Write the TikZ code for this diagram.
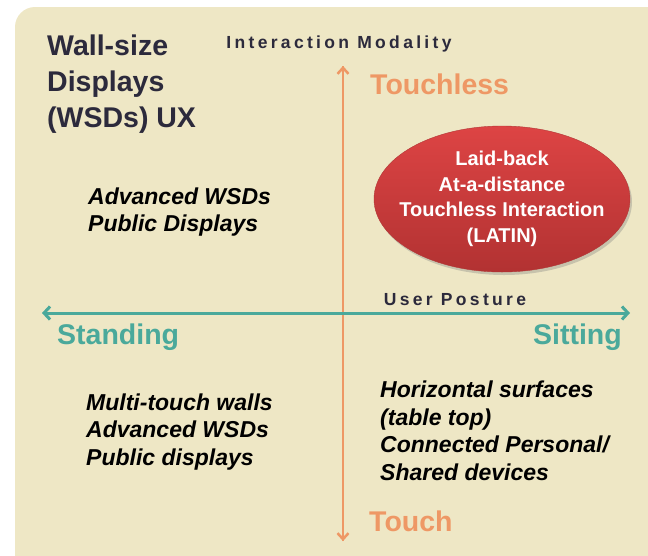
\documentclass[tikz,border=0pt]{standalone}
\usepackage{fontspec}
\setmainfont{Liberation Sans}
\usetikzlibrary{shapes.geometric,shadows,arrows.meta}
\definecolor{paper}{HTML}{EEE7C5}
\definecolor{ink}{HTML}{2C2A3C}
\definecolor{salmon}{HTML}{EE9865}
\definecolor{teal}{HTML}{4AA99B}
\definecolor{redtop}{HTML}{DD4444}
\definecolor{redbot}{HTML}{B23232}
\newcommand{\spaced}{\addfontfeatures{LetterSpace=19}}

\begin{document}
\begin{tikzpicture}[x=1pt,y=-1pt,
    every node/.style={inner sep=0pt},
    quadtext/.style={anchor=west, align=left, text=black,
      font=\bfseries\itshape\fontsize{23}{27.5}\selectfont},
    poletext/.style={font=\bfseries\fontsize{28.5}{30}\selectfont},
    axistext/.style={text=ink, font=\bfseries\fontsize{17.5}{18}\selectfont\spaced}]
    \useasboundingbox (0,0) rectangle (648,555);
    \fill[paper, rounded corners=20pt] (15,7) rectangle (680,590);
    % title
    \node[anchor=west, align=left, text=ink,
      font=\bfseries\fontsize{28.5}{36}\selectfont] (title) at (47,84)
      {Wall-size\\Displays\\(WSDs) UX};
    % axes
    \coordinate (top) at (343,66); \coordinate (bot) at (343,541);
    \coordinate (left) at (42,313); \coordinate (right) at (630,313);
    \draw[salmon, line width=2.5pt, -{Straight Barb[length=6pt,width=11pt]}]
      (bot) -- (top);
    \draw[salmon, line width=2.5pt, -{Straight Barb[length=6pt,width=11pt]}]
      (top) -- (bot);
    \draw[teal, line width=3pt,
      {Straight Barb[length=6pt,width=13pt]}-{Straight Barb[length=6pt,width=13pt]}]
      (left) -- (right);
    \node[axistext] (modality) at (339,44) {Interaction Modality};
    \node[axistext] (posture) at (455,300) {User Posture};
    \node[poletext, text=salmon, anchor=west] (touchless) at (370,84) {Touchless};
    \node[poletext, text=salmon, anchor=west] (touch) at (369,521) {Touch};
    \node[poletext, text=teal, anchor=west] (standing) at (57,337) {Standing};
    \node[poletext, text=teal, anchor=east] (sitting) at (622,337) {Sitting};
    % LATIN
    \node[ellipse, minimum width=256pt, minimum height=146pt,
      top color=redtop, bottom color=redbot, draw=redtop!80!black,
      line width=0.4pt, drop shadow={opacity=0.35, shadow xshift=2pt,
      shadow yshift=-3pt}] (latin) at (502,199) {};
    \node[align=center, text=white,
      font=\bfseries\fontsize{20}{25.5}\selectfont] (latintext) at (latin)
      {Laid-back\\At-a-distance\\Touchless Interaction\\(LATIN)};
    % quadrants
    \node[quadtext] (q1) at (88,212) {Advanced WSDs\\Public Displays};
    \node[quadtext] (q3) at (86,432) {Multi-touch walls\\Advanced WSDs\\Public displays};
    \node[quadtext] (q4) at (380,431) {Horizontal surfaces\\(table top)\\Connected Personal/\\Shared devices};
  \end{tikzpicture}
\end{document}
